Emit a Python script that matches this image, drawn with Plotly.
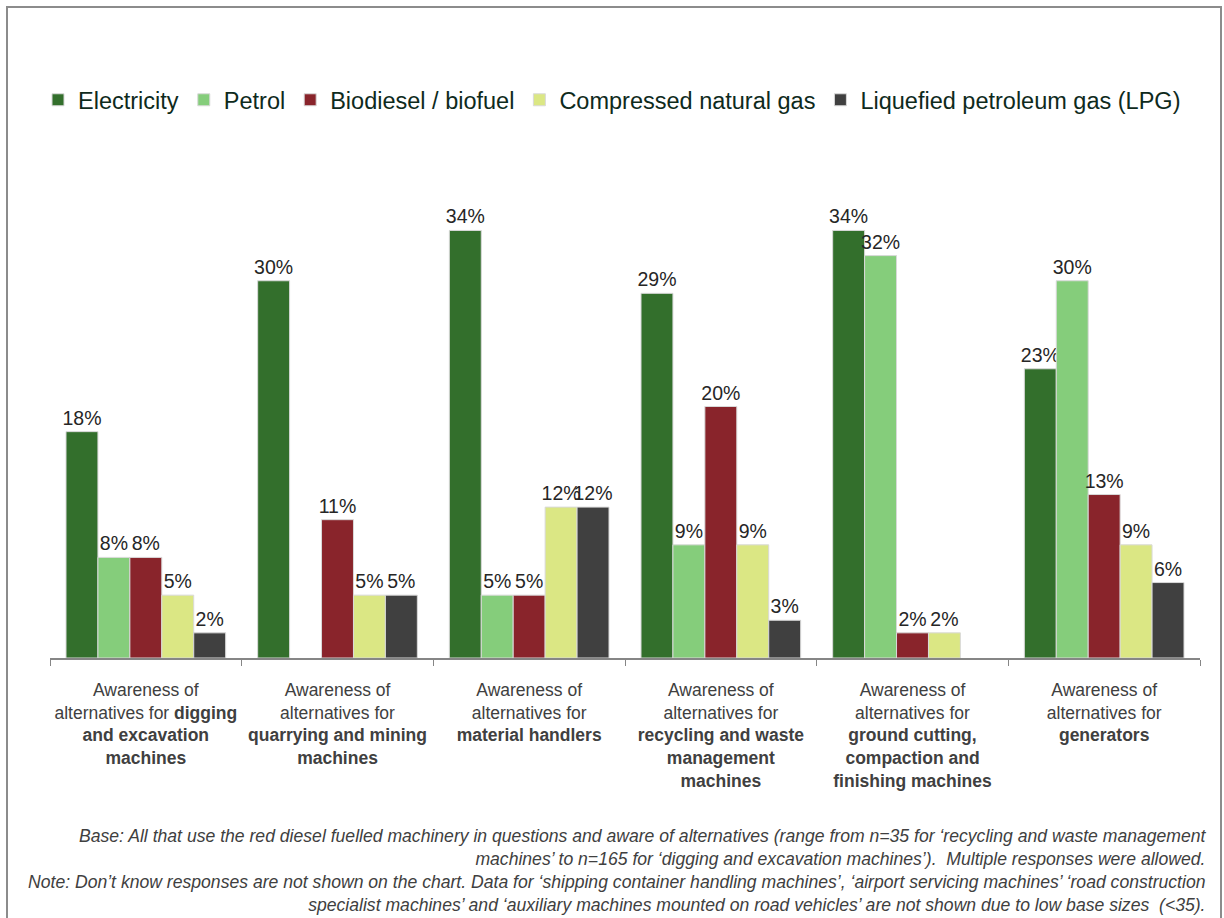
import plotly.graph_objects as go

# Machinery categories (keys) and their two-part axis labels
categories = ["digging", "quarrying", "material", "recycling", "ground", "generators"]
tick_labels = [
    "Awareness of<br>alternatives for <b>digging</b><br><b>and excavation</b><br><b>machines</b>",
    "Awareness of<br>alternatives for<br><b>quarrying and mining</b><br><b>machines</b>",
    "Awareness of<br>alternatives for<br><b>material handlers</b>",
    "Awareness of<br>alternatives for<br><b>recycling and waste</b><br><b>management</b><br><b>machines</b>",
    "Awareness of<br>alternatives for<br><b>ground cutting,</b><br><b>compaction and</b><br><b>finishing machines</b>",
    "Awareness of<br>alternatives for<br><b>generators</b>",
]

# Share aware of each alternative fuel (%); None = not shown
electricity = [18, 30, 34, 29, 34, 23]
petrol = [8, None, 5, 9, 32, 30]
biodiesel = [8, 11, 5, 20, 2, 13]
cng = [5, 5, 12, 9, 2, 9]
lpg = [2, 5, 12, 3, None, 6]

series = [
    ("Electricity", electricity, "#336f2c"),
    ("Petrol", petrol, "#85cd7b"),
    ("Biodiesel / biofuel", biodiesel, "#89242b"),
    ("Compressed natural gas", cng, "#dbe784"),
    ("Liquefied petroleum gas (LPG)", lpg, "#404040"),
]

footnote = (
    "Base: All that use the red diesel fuelled machinery in questions and aware of alternatives "
    "(range from n=35 for \u2018recycling and waste management<br>"
    "machines\u2019 to n=165 for \u2018digging and excavation machines\u2019).  Multiple responses were allowed.<br>"
    "Note: Don\u2019t know responses are not shown on the chart. Data for \u2018shipping container handling "
    "machines\u2019, \u2018airport servicing machines\u2019 \u2018road construction<br>"
    "specialist machines\u2019 and \u2018auxiliary machines mounted on road vehicles\u2019 are not shown "
    "due to low base sizes  (<35)."
)

FONT = "Arial, 'Liberation Sans', sans-serif"

fig = go.Figure()
for name, values, color in series:
    fig.add_trace(go.Bar(
        name=name,
        x=categories,
        y=values,
        marker=dict(color=color, line=dict(color="#d9d9d9", width=1)),
        text=[None if v is None else f"{v}%" for v in values],
        textposition="outside",
        textfont=dict(family=FONT, size=19.5, color="#262626"),
        constraintext="none",
        cliponaxis=False,
        hoverinfo="skip",
    ))

W, H = 1224, 918
L, R, T, B = 50, 24, 155, 260
plot_w = W - L - R
plot_h = H - T - B


def px_x(x):
    return (x - L) / plot_w


def px_y(y):
    return (H - B - y) / plot_h


fig.update_layout(
    width=W,
    height=H,
    margin=dict(l=L, r=R, t=T, b=B, pad=0),
    paper_bgcolor="white",
    plot_bgcolor="white",
    barmode="group",
    bargap=0.167,
    bargroupgap=0,
    font=dict(family=FONT),
    showlegend=True,
    legend=dict(
        orientation="h",
        xref="container",
        yref="container",
        x=38 / W,
        xanchor="left",
        y=1 - 100 / H,
        yanchor="middle",
        font=dict(family=FONT, size=23.5, color="#0e2a1c"),
        bgcolor="rgba(0,0,0,0)",
        traceorder="normal",
    ),
    xaxis=dict(
        type="category",
        tickmode="array",
        tickvals=categories,
        ticktext=tick_labels,
        tickson="boundaries",
        tickangle=0,
        ticks="outside",
        ticklen=6,
        tickcolor="#868686",
        ticklabelstandoff=15,
        showline=True,
        linecolor="#868686",
        linewidth=1.5,
        showgrid=False,
        tickfont=dict(family=FONT, size=17.5, color="#404040"),
    ),
    yaxis=dict(
        range=[0, 40],
        visible=False,
        showgrid=False,
        zeroline=False,
    ),
    shapes=[
        dict(
            type="rect",
            xref="paper",
            yref="paper",
            x0=px_x(7),
            x1=px_x(1221),
            y0=px_y(930),
            y1=px_y(7),
            line=dict(color="#8c8c8c", width=2),
            fillcolor="rgba(0,0,0,0)",
            layer="below",
        )
    ],
    annotations=[
        dict(
            text=footnote,
            xref="paper",
            yref="paper",
            x=px_x(1209),
            y=px_y(870),
            xanchor="right",
            yanchor="middle",
            align="right",
            showarrow=False,
            font=dict(family=FONT, size=17.6, color="#404040", style="italic"),
        )
    ],
)

fig.write_html("out.html")
